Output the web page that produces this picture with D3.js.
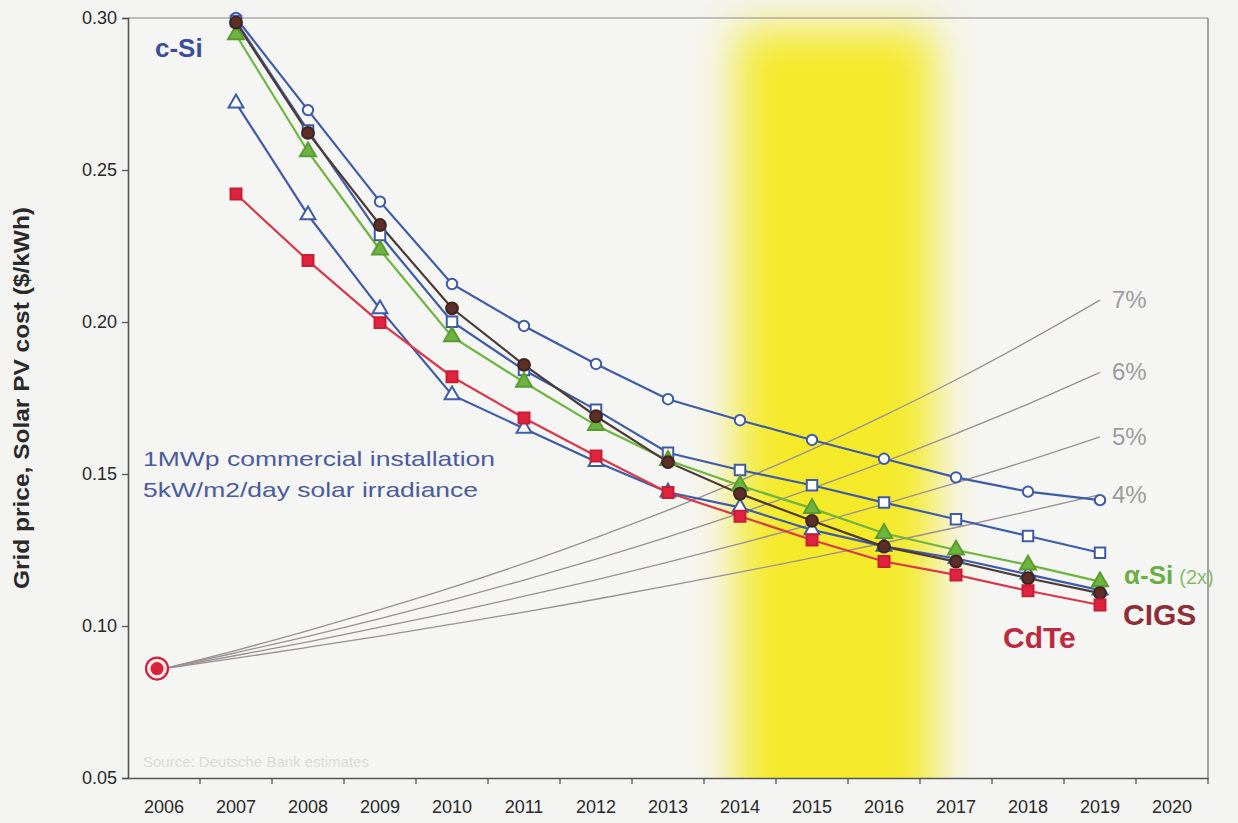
<!DOCTYPE html>
<html>
<head>
<meta charset="utf-8">
<script src="https://cdn.jsdelivr.net/npm/d3@7"></script>
<style>
  html, body { margin: 0; padding: 0; background: #f3f3f1; }
  svg { display: block; font-family: "Liberation Sans", Arial, sans-serif; }
</style>
</head>
<body>
<svg id="chart" width="1238" height="823"></svg>
<script>
// Category axis (one band per year) and value ticks
const years = ["2006","2007","2008","2009","2010","2011","2012","2013","2014","2015","2016","2017","2018","2019","2020"];
const yTicks = [0.05, 0.10, 0.15, 0.20, 0.25, 0.30];

// Cost projections, 2007–2019 ($/kWh)
const costYears = ["2007","2008","2009","2010","2011","2012","2013","2014","2015","2016","2017","2018","2019"];
const cSiHigh   = [0.300, 0.2697, 0.2396, 0.2125, 0.1987, 0.1862, 0.1746, 0.1677, 0.1612, 0.1550, 0.1489, 0.1442, 0.1414];
const cSiMid    = [0.299, 0.2630, 0.2286, 0.2001, 0.1842, 0.1711, 0.1570, 0.1513, 0.1463, 0.1406, 0.1351, 0.1296, 0.1241];
const cSiLow    = [0.272, 0.2352, 0.2043, 0.1760, 0.1650, 0.1540, 0.1440, 0.1390, 0.1316, 0.1262, 0.1222, 0.1170, 0.1118];
const aSi       = [0.2945, 0.2560, 0.2237, 0.1952, 0.1802, 0.1660, 0.1545, 0.1462, 0.1387, 0.1305, 0.1250, 0.1201, 0.1146];
const cigs      = [0.2985, 0.2622, 0.2319, 0.2045, 0.1859, 0.1690, 0.1539, 0.1435, 0.1346, 0.1261, 0.1212, 0.1157, 0.1108];
const cdTe      = [0.2421, 0.2202, 0.1998, 0.1820, 0.1684, 0.1559, 0.1439, 0.1361, 0.1283, 0.1212, 0.1168, 0.1116, 0.1069];

// Grid price paths from the 2006 level at 4–7 % a year
const gridYears  = ["2006","2007","2008","2009","2010","2011","2012","2013","2014","2015","2016","2017","2018","2019"];
const gridLabels = ["4%", "5%", "6%", "7%"];
const grid4 = [0.0860, 0.0894, 0.0930, 0.0967, 0.1006, 0.1046, 0.1088, 0.1132, 0.1177, 0.1224, 0.1273, 0.1324, 0.1377, 0.1432];
const grid5 = [0.0860, 0.0903, 0.0948, 0.0996, 0.1045, 0.1098, 0.1152, 0.1210, 0.1271, 0.1334, 0.1401, 0.1471, 0.1544, 0.1622];
const grid6 = [0.0860, 0.0912, 0.0966, 0.1024, 0.1086, 0.1151, 0.1220, 0.1293, 0.1371, 0.1453, 0.1540, 0.1633, 0.1730, 0.1834];
const grid7 = [0.0860, 0.0920, 0.0985, 0.1054, 0.1127, 0.1206, 0.1291, 0.1381, 0.1478, 0.1581, 0.1692, 0.1810, 0.1937, 0.2072];

// Grid-parity window (fractional year positions)
const parityWindow = [2013.95, 2016.7];

const svg = d3.select("#chart");
const plotL = 128, plotR = 1208, plotT = 18, plotB = 778;

const x = d3.scaleBand().domain(years).range([plotL, plotR]).padding(0);
const bw = x.bandwidth();
const cx = yr => x(yr) + bw / 2;
const xNum = v => x("2006") + bw / 2 + (v - 2006) * bw;
const y = d3.scaleLinear().domain([0.05, 0.30]).range([plotB, plotT]);

// plot background
svg.append("rect").attr("x", plotL).attr("y", plotT).attr("width", plotR - plotL).attr("height", plotB - plotT)
  .attr("fill", "#f5f5f3");

// soft yellow parity band
const defs = svg.append("defs");
defs.append("filter").attr("id", "glow").attr("filterUnits", "userSpaceOnUse")
  .attr("x", 500).attr("y", -200).attr("width", 700).attr("height", 1300)
  .append("feGaussianBlur").attr("stdDeviation", 22);
defs.append("clipPath").attr("id", "plotClip")
  .append("rect").attr("x", plotL).attr("y", 0).attr("width", plotR - plotL).attr("height", plotB);
svg.append("g").attr("clip-path", "url(#plotClip)")
  .append("rect")
  .attr("x", xNum(parityWindow[0])).attr("y", 28)
  .attr("width", xNum(parityWindow[1]) - xNum(parityWindow[0])).attr("height", plotB + 80)
  .attr("fill", "#f4ea2c").attr("filter", "url(#glow)");

// frame
svg.append("line").attr("x1", plotL).attr("x2", plotR).attr("y1", plotT).attr("y2", plotT).attr("stroke", "#8a8a8a").attr("stroke-width", 1.2);
svg.append("line").attr("x1", plotR).attr("x2", plotR).attr("y1", plotT).attr("y2", plotB).attr("stroke", "#6a6a6a").attr("stroke-width", 1.2);

// source note
svg.append("text").attr("x", plotL + 15).attr("y", plotB - 11).attr("font-size", 15).attr("fill", "#dadada")
  .text("Source: Deutsche Bank estimates");

// grid price curves
const gridLine = d3.line().x((d, i) => cx(gridYears[i])).y(d => y(d)).curve(d3.curveMonotoneX);
[grid4, grid5, grid6, grid7].forEach((s, k) => {
  svg.append("path").attr("d", gridLine(s)).attr("fill", "none").attr("stroke", "#9a8f94").attr("stroke-width", 1.3);
  svg.append("text").attr("x", cx("2019") + 12).attr("y", y(s[s.length - 1]) + 8)
    .attr("font-size", 24).attr("fill", "#9c9c9c").text(gridLabels[k]);
});

// cost series
const series = [
  { v: cSiHigh, line: "#3e5ba8", sym: d3.symbolCircle, size: 85, fill: "#ffffff", stroke: "#3e5ba8" },
  { v: cSiMid,  line: "#3e5ba8", sym: d3.symbolSquare, size: 110, fill: "#ffffff", stroke: "#3e5ba8" },
  { v: cSiLow,  line: "#3e5ba8", sym: d3.symbolTriangle, size: 95, fill: "#ffffff", stroke: "#3e5ba8" },
  { v: aSi,     line: "#6db53f", sym: d3.symbolTriangle, size: 110, fill: "#6db53f", stroke: "#5a9a33" },
  { v: cigs,    line: "#4d3a36", sym: d3.symbolCircle, size: 110, fill: "#5e2f28", stroke: "#3d2520" },
  { v: cdTe,    line: "#d8384c", sym: d3.symbolSquare, size: 120, fill: "#e0233e", stroke: "#c81e36" }
];
const costLine = d3.line().x((d, i) => cx(costYears[i])).y(d => y(d));
series.forEach(s => {
  svg.append("path").attr("d", costLine(s.v)).attr("fill", "none").attr("stroke", s.line).attr("stroke-width", 2.2);
});
series.forEach(s => {
  svg.append("g").selectAll("path").data(s.v).join("path")
    .attr("transform", (d, i) => `translate(${cx(costYears[i])},${y(d)})`)
    .attr("d", d3.symbol().type(s.sym).size(s.size))
    .attr("fill", s.fill).attr("stroke", s.stroke).attr("stroke-width", 2);
});

// 2006 grid price marker
const g0 = svg.append("g").attr("transform", `translate(${cx("2006") - 7},${y(grid4[0])})`);
g0.append("circle").attr("r", 11).attr("fill", "#fbe6ea").attr("stroke", "#c8233a").attr("stroke-width", 2.2);
g0.append("circle").attr("r", 6.5).attr("fill", "#d8223c");

// axes
const yAxis = svg.append("g").attr("transform", `translate(${plotL},0)`)
  .call(d3.axisLeft(y).tickValues(yTicks).tickFormat(d3.format(".2f")).tickSize(6).tickPadding(5));
const xAxis = svg.append("g").attr("transform", `translate(0,${plotB})`)
  .call(d3.axisBottom(x).tickSize(0).tickPadding(22));
[yAxis, xAxis].forEach(a => {
  a.select(".domain").attr("stroke", "#555").attr("stroke-width", 1.6);
  a.selectAll("line").attr("stroke", "#555").attr("stroke-width", 1.3);
  a.selectAll("text").attr("fill", "#2a2a2a").attr("font-family", "Liberation Sans, Arial, sans-serif").attr("font-size", 18);
});
// x tick marks sit on the band boundaries
xAxis.selectAll(".bt").data(years.slice(1)).join("line")
  .attr("x1", d => x(d)).attr("x2", d => x(d)).attr("y1", 0).attr("y2", 6)
  .attr("stroke", "#555").attr("stroke-width", 1.3);
xAxis.append("line").attr("x1", plotR).attr("x2", plotR).attr("y1", 0).attr("y2", 6).attr("stroke", "#555").attr("stroke-width", 1.3);

// y axis title
svg.append("text").attr("transform", `translate(29,${(plotT + plotB) / 2}) rotate(-90)`)
  .attr("text-anchor", "middle").attr("font-size", 22).attr("font-weight", "bold").attr("fill", "#2a2a2a")
  .attr("textLength", 382).attr("lengthAdjust", "spacingAndGlyphs")
  .text("Grid price, Solar PV cost ($/kWh)");

// annotations
svg.append("text").attr("x", 155).attr("y", 57).attr("font-size", 26).attr("font-weight", "bold").attr("fill", "#3b4e9c").text("c-Si");
svg.append("text").attr("x", 143).attr("y", 466).attr("font-size", 21).attr("fill", "#4b5b9c")
  .attr("textLength", 352).attr("lengthAdjust", "spacingAndGlyphs").text("1MWp commercial installation");
svg.append("text").attr("x", 143).attr("y", 497).attr("font-size", 21).attr("fill", "#4b5b9c")
  .attr("textLength", 335).attr("lengthAdjust", "spacingAndGlyphs").text("5kW/m2/day solar irradiance");

const aLab = svg.append("text").attr("x", 1124).attr("y", 584).attr("fill", "#6aae45");
aLab.append("tspan").attr("font-size", 26).attr("font-weight", "bold").text("α-Si");
aLab.append("tspan").attr("font-size", 20).attr("dx", 6).attr("fill", "#86bd6a").text("(2x)");
svg.append("text").attr("x", 1123).attr("y", 625).attr("font-size", 30).attr("font-weight", "bold").attr("fill", "#8e2e3a").text("CIGS");
svg.append("text").attr("x", 1003).attr("y", 648).attr("font-size", 30).attr("font-weight", "bold").attr("fill", "#bb2a40").text("CdTe");
</script>
</body>
</html>
